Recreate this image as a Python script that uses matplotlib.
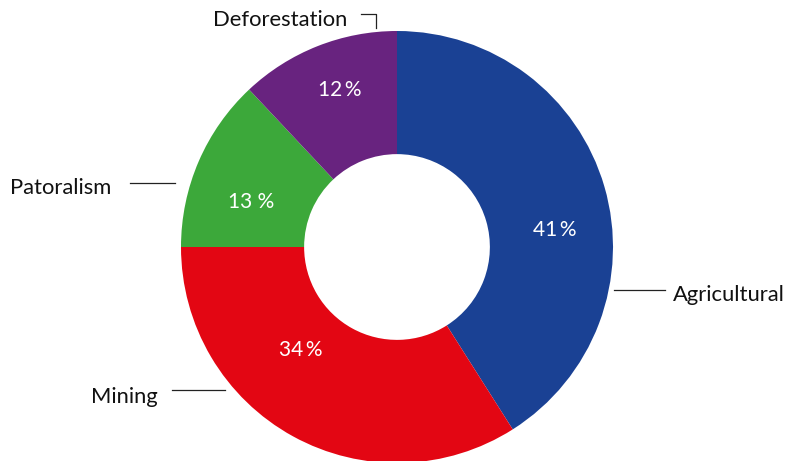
import matplotlib
matplotlib.use("Agg")
from matplotlib import pyplot as plt
import numpy as np

categories = ["Agricultural", "Mining", "Patoralism", "Deforestation"]
shares = [41, 34, 13, 12]
pct_labels = ["41\u2009%", "34\u2009%", "13 %", "12\u2009%"]
colors = ["#1a4194", "#e30613", "#3ca83a", "#68237f"]

plt.rcParams['font.family'] = ['Lato', 'DejaVu Sans']

W, H = 786, 461
fig = plt.figure(figsize=(W / 100, H / 100), dpi=100)
ax = fig.add_axes([0, 0, 1, 1])

cx, cy = 397, H - 247
r_out = 216
ring = 0.57

ax.pie(shares, colors=colors, startangle=90, counterclock=False,
       center=(cx, cy), radius=r_out, frame=True,
       wedgeprops=dict(width=r_out * ring, linewidth=0))
ax.set_xlim(0, W)
ax.set_ylim(0, H)
ax.set_aspect('equal')
ax.axis('off')

# percent labels (pixel positions, y from top)
pct_pos = [(555, 230), (301, 350), (251, 202), (340, 90)]
for (px, py), t in zip(pct_pos, pct_labels):
    ax.text(px, H - py, t, color='white', fontsize=15,
            ha='center', va='center')

# category labels with leader lines
lab_pos = [(673, 295, 'left'), (158, 397, 'right'), (111, 188, 'right'), (347, 20, 'right')]
lines = [
    [(614, 290), (665, 290)],
    [(172, 390), (225, 390)],
    [(130, 183), (175, 183)],
    [(361, 14), (376, 14), (376, 28)],
]
for (lx, ly, ha), name, seg in zip(lab_pos, categories, lines):
    ax.text(lx, H - ly, name, fontsize=15.8, ha=ha, va='center', color='#111111')
    xs = [p[0] for p in seg]
    ys = [H - p[1] for p in seg]
    ax.plot(xs, ys, color='#222222', lw=0.9)

fig.savefig("out.png", dpi=100)
